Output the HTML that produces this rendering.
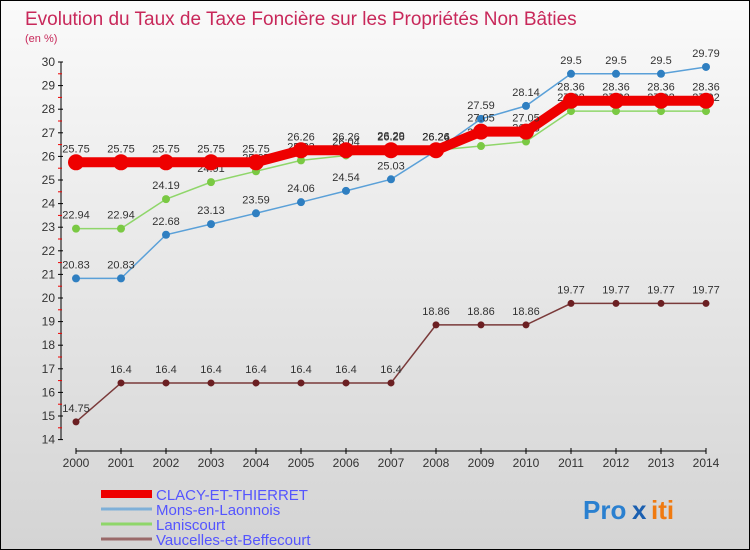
<!DOCTYPE html>
<html><head><meta charset="utf-8"><style>
body{margin:0;background:#fff}
#c{position:relative;width:748px;height:548px;border:1px solid #000;background:linear-gradient(#fafafa,#d4d4d4);font-family:"Liberation Sans",sans-serif;overflow:hidden}
</style></head><body>
<div id="c">
<svg width="748" height="548" id="s" style="position:absolute;left:0;top:0"></svg>
</div>
<script>
const years=[2000,2001,2002,2003,2004,2005,2006,2007,2008,2009,2010,2011,2012,2013,2014];
const clacy=[25.75,25.75,25.75,25.75,25.75,26.26,26.26,26.26,26.26,27.05,27.05,28.36,28.36,28.36,28.36];
const mons=[20.83,20.83,22.68,23.13,23.59,24.06,24.54,25.03,26.24,27.59,28.14,29.5,29.5,29.5,29.79];
const lanis=[22.94,22.94,24.19,24.91,25.37,25.83,26.04,26.29,26.26,26.44,26.63,27.92,27.92,27.92,27.92];
const vauc=[14.75,16.4,16.4,16.4,16.4,16.4,16.4,16.4,18.86,18.86,18.86,19.77,19.77,19.77,19.77];
const yTicks=[14,15,16,17,18,19,20,21,22,23,24,25,26,27,28,29,30];
const names=["CLACY-ET-THIERRET","Mons-en-Laonnois","Laniscourt","Vaucelles-et-Beffecourt"];
const NS="http://www.w3.org/2000/svg";
const s=document.getElementById('s');
const X=i=>75+i*45, Y=v=>61+(30-v)*23.6;
function el(t,a,p){const e=document.createElementNS(NS,t);for(const k in a)e.setAttribute(k,a[k]);(p||s).appendChild(e);return e;}
function tx(x,y,str,a,p){const e=el('text',Object.assign({x:x,y:y,'font-size':12,fill:'#333'},a||{}),p);e.textContent=str;return e;}
let t=tx(24,24,"Evolution du Taux de Taxe Foncière sur les Propriétés Non Bâties",{'font-size':19,fill:'#c8285a'});


t=tx(24,41,"(en %)",{'font-size':11,fill:'#c8285a'});


let ax=el('line',{x1:60,y1:Y(30),x2:60,y2:Y(14),stroke:'#000'});


yTicks.forEach(v=>{el('line',{x1:57,x2:62,y1:Y(v),y2:Y(v),stroke:'#000'});
 if(v<30)el('line',{x1:57,x2:61,y1:Y(v+0.5),y2:Y(v+0.5),stroke:'#e00'});
 const l=tx(54,Y(v)+4,String(v),{'text-anchor':'end'});
 
 });
ax=el('line',{x1:X(0),y1:450,x2:X(14),y2:450,stroke:'#000'});


years.forEach((y,i)=>{el('line',{x1:X(i),x2:X(i),y1:447,y2:453,stroke:'#000'});
 const l=tx(X(i),466,String(y),{'text-anchor':'middle'});
 
 });
function series(data,col,w,r,name,fill){
 const g=el('g',{});
 
 
 el('polyline',{points:data.map((v,i)=>X(i)+','+Y(v)).join(' '),fill:'none',stroke:col,'stroke-width':w},g);
 data.forEach((v,i)=>{const c=el('circle',{cx:X(i),cy:Y(v),r:r,fill:fill},g);
  
  
  tx(X(i),Y(v)-10,String(v),{'text-anchor':'middle','font-size':11,fill:'#333'},g);});
}
series(vauc,'#7a3a3a',1.5,3.5,'series-vaucelles','#6b1f22');
series(lanis,'#8fd66a',1.5,4,'series-laniscourt','#7ac943');
series(mons,'#5aa0d8',1.5,4,'series-mons','#2f7fc1');
series(clacy,'#e00',10,8,'series-clacy','#e00');
const lc=['#e00','#7fb0d8','#8fd66a','#9a6a6a'],lw=[8,3,3,3];
names.forEach((n,i)=>{const y=493+i*15;
 const g=el('g',{});
 
 
 el('line',{x1:100,x2:151,y1:y,y2:y,stroke:lc[i],'stroke-width':lw[i]},g);
 tx(155,y+6,n,{'font-size':15,fill:'#55f'},g);});
t=tx(582,518,"Pro",{'font-size':26,fill:'#2a80d0','font-weight':'bold'});


tx(631,518,"x",{'font-size':26,fill:'#1a5fb0','font-weight':'bold'});
tx(650,518,"iti",{'font-size':26,fill:'#f07a10','font-weight':'bold'});
</script>
</body></html>
